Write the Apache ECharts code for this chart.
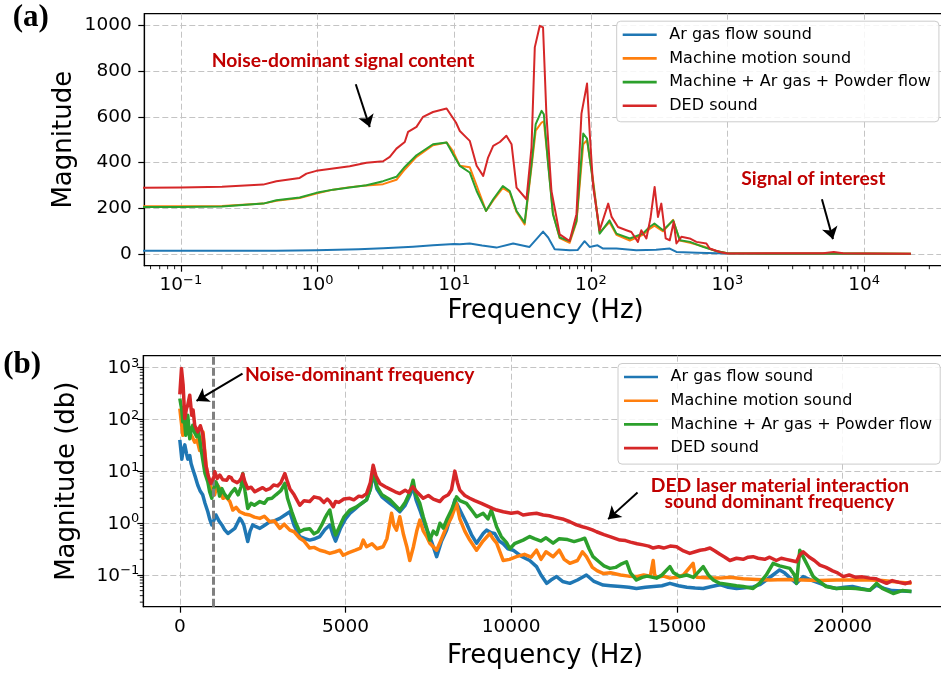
<!DOCTYPE html>
<html><head><meta charset="utf-8">
<script src="https://cdn.jsdelivr.net/npm/echarts@6/dist/echarts.min.js"></script>
<style>html,body{margin:0;padding:0;background:#fff}#c{width:941px;height:673px}</style>
</head><body><div id="c"></div>
<script>
// ---------- names / colours ----------
const seriesNames = ['Ar gas flow sound','Machine motion sound','Machine + Ar gas + Powder flow','DED sound'];
const colors = ['#1f77b4','#ff7f0e','#2ca02c','#d62728'];

// ---------- panel (a): log frequency vs magnitude ----------
const aArFreq = [0.05,0.5,0.98,2,3.02,5,7,10,11,13,16,20.4,27,35.6,40,44.7,48.7,54.4,70,80,90,98,112,123,154,215,300,378,423,600,1000,2000,22000];
const aArMag  = [15,15,17,22,26,33,39,45,44,47,38,29,47,32,66,99,73,22,17,18,57,32,39,25,25,17,20,25,10,6,3,1,1];

const aMachFreq = [0.05,0.1,0.2,0.4,0.5,0.74,0.98,1.3,1.72,2.28,3.02,3.78,4.35,5.3,7.0,8.8,9.8,11,13,14.6,17.1,19.3,22.7,25.5,28.6,32.8,36.8,39.5,43.6,45.3,48.7,52.8,59.2,70,78.5,88,93.8,104,116,137,154,193,240,269,292,338,400,448,532,660,827,1000,2000,10000,22000];
const aMachMag  = [209,209,211,221,233,245,265,282,293,300,306,325,370,425,476,488,450,386,380,300,189,235,290,270,185,130,380,540,575,580,400,180,70,50,140,480,498,320,95,140,85,60,85,110,125,100,150,60,50,35,14,4,3,3,2];

const aMixFreq = aMachFreq;
const aMixMag  = [206,206,208,221,236,248,268,282,291,301,319,338,381,432,480,488,437,386,357,276,189,240,298,276,189,138,393,568,626,611,393,175,73,58,145,527,505,309,90,148,90,69,90,119,134,105,148,61,54,32,14,4,3,3,2];

const aDedFreq = [0.05,0.1,0.2,0.4,0.5,0.74,0.83,0.98,1.3,1.72,2.28,3.02,3.38,3.78,4.35,4.6,5.3,5.92,7.0,8.8,9.0,10.3,11,13,14.6,16.3,17.7,19.3,21.6,24.1,26.3,28.6,33.8,36.8,38.9,42.3,44.7,47.3,51.5,59.2,70,78.5,85.4,93.8,98.2,104,116,134,142,158,182,198,221,234,255,273,293,310,328,353,378,404,423,460,529,592,701,741,877,1000,2000,5000,6000,7000,10000,22000];
const aDedMag  = [290,291,295,304,319,333,352,364,374,384,399,406,425,461,490,534,556,600,621,636,633,575,538,495,386,342,422,473,490,517,480,291,240,466,903,997,990,611,276,87,58,175,614,745,527,294,105,221,163,119,105,97,54,105,69,156,294,163,221,69,61,141,47,76,69,54,47,25,10,3,4,4,10,4,3,2];

// ---------- panel (b): linear frequency vs log magnitude ----------
const bArFreq = [0,30,60,100,150,200,240,300,340,390,460,540,610,690,760,845,900,965,1020,1090,1180,1270,1350,1450,1550,1660,1740,1810,1870,1930,2000,2050,2120,2200,2300,2415,2550,2716,2850,3018,3150,3320,3450,3620,3780,3920,4080,4225,4380,4527,4620,4700,4850,5000,5130,5300,5450,5635,5750,5835,5950,6100,6340,6500,6640,6800,6950,7040,7130,7245,7400,7545,7650,7750,7900,8050,8180,8300,8450,8650,8800,8955,9155,9255,9400,9500,9640,9760,9900,10060,10300,10560,10765,10900,11070,11200,11370,11550,11770,12000,12270,12500,12775,13000,13300,13550,13780,14050,14300,14550,14790,15050,15300,15550,15795,16050,16300,16550,16800,17050,17300,17500,17700,17900,18100,18250,18400,18610,18810,19050,19315,19550,19815,20050,20300,20550,20825,21025,21250,21500,21800,22080];
const bArMag  = [40,42,17,25,32,22,17,20,14,11,8,5.4,4.2,3.5,2.4,1.65,1.2,0.92,1.1,1.43,1.1,0.92,0.75,0.63,0.7,0.79,1.0,1.23,1.1,0.92,0.6,0.44,0.7,0.92,0.85,0.79,0.9,1.06,1.1,1.23,1.4,1.65,0.9,0.55,0.5,0.47,0.5,0.55,0.75,0.92,0.6,0.45,0.8,1.2,1.54,1.9,2.3,2.8,4.5,9.0,4.5,3.2,2.4,2.0,1.65,2.2,3.5,5.0,2.8,1.78,0.9,0.55,0.35,0.225,0.45,0.73,1.4,2.8,1.8,0.99,0.6,0.41,0.63,0.73,0.65,0.63,0.45,0.40,0.32,0.30,0.23,0.19,0.145,0.1,0.069,0.08,0.093,0.075,0.069,0.08,0.1,0.075,0.064,0.062,0.06,0.058,0.055,0.058,0.06,0.062,0.069,0.062,0.058,0.056,0.055,0.06,0.065,0.058,0.055,0.057,0.059,0.065,0.08,0.1,0.125,0.11,0.09,0.069,0.093,0.08,0.069,0.06,0.055,0.058,0.06,0.055,0.051,0.064,0.055,0.05,0.049,0.048];

const bMachFreq = [0,30,90,150,210,260,300,380,450,520,600,650,700,750,800,880,965,1050,1130,1207,1300,1400,1510,1600,1700,1810,1950,2110,2250,2415,2550,2716,2850,3018,3150,3320,3450,3620,3750,3920,4050,4225,4400,4527,4700,4830,4930,5100,5300,5450,5535,5635,5800,5950,6135,6250,6390,6460,6540,6640,6750,6850,6940,7050,7150,7245,7350,7450,7545,7750,7900,8050,8200,8350,8450,8600,8750,8955,9150,9355,9450,9560,9660,9760,9950,10160,10400,10600,10765,10900,11050,11265,11450,11600,11770,12000,12150,12270,12450,12600,12775,13000,13300,13550,13780,14000,14200,14285,14330,14400,14600,14790,15000,15200,15490,15550,15600,15900,16295,16600,17000,17400,17800,18300,18810,19300,19815,20300,20825,21200,21500,21800,22080];
const bMachMag  = [160,160,49,70,89,60,57,45,36,40,25,35,57,25,12,6,4.6,3.5,5.5,4.6,3.0,3.2,2.6,1.78,2.0,1.65,1.5,1.43,1.3,1.23,1.35,1.06,1.1,0.79,0.95,0.73,0.68,0.51,0.45,0.33,0.34,0.30,0.28,0.26,0.28,0.30,0.24,0.27,0.3,0.33,0.47,0.35,0.4,0.32,0.35,0.5,1.54,0.9,0.73,1.32,0.6,0.35,0.19,0.35,0.7,1.14,0.7,0.55,0.41,0.30,0.5,0.85,1.3,2.4,1.2,0.7,0.47,0.30,0.45,0.63,0.5,0.41,0.28,0.19,0.2,0.225,0.25,0.22,0.30,0.2,0.28,0.225,0.3,0.2,0.168,0.19,0.28,0.225,0.14,0.12,0.107,0.11,0.1,0.095,0.093,0.1,0.095,0.19,0.1,0.09,0.095,0.087,0.09,0.1,0.168,0.1,0.09,0.088,0.087,0.09,0.085,0.082,0.080,0.082,0.080,0.078,0.080,0.08,0.08,0.078,0.075,0.072,0.069];

const bMixFreq = [0,30,60,90,130,180,240,300,340,390,450,510,560,600,650,690,760,845,900,965,1020,1090,1150,1200,1270,1350,1450,1550,1660,1760,1850,1900,1970,2050,2150,2250,2415,2550,2650,2780,2900,3050,3170,3250,3380,3500,3620,3750,3920,4050,4165,4275,4375,4450,4527,4620,4700,4800,4950,5130,5300,5450,5635,5750,5835,5950,6100,6340,6500,6640,6800,6950,7040,7120,7243,7350,7450,7545,7650,7750,7850,7950,8050,8200,8350,8450,8650,8800,8955,9155,9300,9400,9560,9700,9860,9960,10100,10360,10560,10700,10900,11050,11265,11450,11700,11900,12100,12220,12350,12470,12650,12800,12980,13150,13300,13480,13600,13780,13950,14100,14385,14550,14790,14900,15090,15300,15500,15795,15950,16100,16295,16500,16800,17000,17300,17500,17700,17905,18100,18410,18550,18610,18710,18850,19000,19115,19300,19500,19815,20100,20400,20825,21025,21200,21530,21800,22080];
const bMixMag  = [250,250,150,89,110,49,119,42,60,76,55,46,60,40,25,17,9,6.2,4,3.0,4.5,6.2,5.0,3.3,4.6,3.6,3.0,3.8,4.6,3.5,5.0,9.0,4.0,1.9,2.4,2.2,2.6,2.4,2.9,3.0,3.5,4.2,5.8,3.0,1.65,1.0,0.68,0.75,0.78,0.62,0.68,0.9,1.23,1.5,1.78,0.9,0.59,0.8,1.3,1.78,2.0,2.3,2.8,4.5,10.4,5,3.5,2.8,2.2,1.78,2.5,4.0,6.7,3.5,2.4,1.3,0.8,0.47,0.7,0.6,0.99,0.8,1.14,1.8,3.2,2.7,2.4,1.8,1.32,1.54,1.2,1.78,0.85,0.55,0.42,0.32,0.4,0.47,0.55,0.5,0.45,0.52,0.41,0.5,0.48,0.44,0.48,0.51,0.32,0.225,0.18,0.15,0.134,0.14,0.16,0.18,0.11,0.080,0.09,0.095,0.087,0.1,0.145,0.11,0.093,0.1,0.09,0.145,0.1,0.08,0.069,0.066,0.062,0.06,0.055,0.07,0.1,0.168,0.15,0.134,0.1,0.069,0.30,0.2,0.13,0.093,0.075,0.06,0.055,0.056,0.055,0.051,0.069,0.055,0.044,0.05,0.048];

const bDedFreq = [0,50,100,150,200,240,300,360,400,450,540,620,700,785,860,935,1030,1056,1130,1207,1300,1418,1480,1550,1600,1660,1730,1800,1850,1900,1960,2052,2150,2264,2380,2500,2600,2716,2830,2950,3050,3170,3250,3320,3450,3620,3750,3920,4050,4225,4350,4450,4527,4630,4700,4800,4950,5130,5250,5400,5500,5635,5750,5835,5920,6036,6200,6340,6500,6640,6800,6900,7030,7150,7345,7500,7650,7847,7950,8100,8200,8300,8380,8450,8600,8750,8900,9100,9300,9450,9560,9760,10000,10200,10360,10550,10765,10965,11150,11300,11550,11770,11970,12150,12300,12450,12575,12800,12980,13280,13450,13600,13800,13980,14150,14285,14450,14600,14800,14990,15200,15390,15550,15700,15850,16000,16150,16300,16450,16600,16800,17000,17150,17300,17450,17650,17800,18000,18150,18300,18450,18610,18700,18810,19000,19150,19315,19500,19700,19850,20020,20200,20400,20600,20825,21000,21100,21330,21500,21700,21900,22080];
const bDedMag  = [300,944,450,103,160,186,290,119,150,76,57,75,50,13,8,5.8,7.8,9.7,7.2,8.4,6.8,6.7,7.8,7.5,6.6,7.2,6.0,6.5,7.2,8.8,6.3,4.6,4.9,4.0,4.4,4.8,4.3,4.6,5.4,5.2,6.0,9.0,6.2,4.6,3.5,2.2,2.7,2.6,3.2,3.0,2.5,2.9,2.6,2.06,2.6,2.5,2.9,3.0,2.8,3.3,3.2,3.7,6,13,8,5.8,5.0,4.5,4.0,3.7,4.3,3.9,5.0,4.0,3.0,3.4,2.9,2.6,3.1,3.5,4.4,10,6,4.3,3.4,3.0,2.7,2.4,2.1,1.9,1.78,1.65,1.55,1.62,1.43,1.5,1.54,1.43,1.38,1.3,1.2,1.06,0.92,0.85,0.8,0.74,0.68,0.6,0.55,0.47,0.46,0.43,0.40,0.38,0.36,0.33,0.35,0.33,0.36,0.35,0.29,0.26,0.28,0.3,0.31,0.33,0.29,0.25,0.22,0.19,0.21,0.2,0.22,0.225,0.21,0.2,0.22,0.19,0.21,0.2,0.19,0.18,0.24,0.28,0.22,0.19,0.155,0.14,0.12,0.11,0.093,0.1,0.09,0.092,0.087,0.085,0.08,0.069,0.078,0.072,0.068,0.074];

// ---------- axis ranges / ticks ----------
const aXRange = [0.054, 40400];
const aYRange = [-50, 1050];
const bXRange = [-1102, 23152];
const bYRange = [0.0245, 1671];
const aMinorX = [0.06,0.07,0.08,0.09,0.2,0.3,0.4,0.5,0.6,0.7,0.8,0.9,2,3,4,5,6,7,8,9,20,30,40,50,60,70,80,90,200,300,400,500,600,700,800,900,2000,3000,4000,5000,6000,7000,8000,9000,20000,30000,40000];
const bMinorY = [0.03,0.04,0.05,0.06,0.07,0.08,0.09,0.2,0.3,0.4,0.5,0.6,0.7,0.8,0.9,2,3,4,5,6,7,8,9,20,30,40,50,60,70,80,90,200,300,400,500,600,700,800,900];

// ---------- annotations (data coordinates) ----------
const aArrows = [[[1.905,742],[2.41,555]], [[4910,240],[5913,66]]];
const bArrows = [[[1892,757],[504,225]], [[13813,3.89],[12926,1.19]]];
const bCutoff = 1000;

const zip = (xs, ys) => xs.map((x, i) => [x, ys[i]]);
const FONT = 'DejaVu Sans';
const RED = '#c00000';

const supLabel = (extra) => Object.assign({
  formatter: v => { const e = Math.round(Math.log10(v)); return '{b|10}{s|' + (e < 0 ? '\u2212' + (-e) : e) + '}'; },
  rich: {
    b: {fontSize: 18.5, fontFamily: FONT, color: '#000', verticalAlign: 'bottom'},
    s: {fontSize: 13, fontFamily: FONT, color: '#000', verticalAlign: 'bottom', padding: [0, 0, 8, 0]}
  },
  showMinLabel: false, showMaxLabel: false, interval: 0
}, extra);

const splitLine = {show: true, showMinLine: false, showMaxLine: false, lineStyle: {color: '#c4c4c4', type: [6, 3], width: 1}};
const axisLine = {show: true, onZero: false, lineStyle: {color: '#000', width: 1.2}};
const axisTick = {show: true, length: 6, inside: false, lineStyle: {color: '#000', width: 1.2}};
const nameStyle = {fontSize: 26, fontFamily: FONT, color: '#000'};

function lineSeries(name, i, xi, data, width, extra) {
  return Object.assign({
    type: 'line', name, xAxisIndex: xi, yAxisIndex: xi, data,
    showSymbol: false, symbol: 'none', smooth: false, silent: true,
    lineStyle: {color: colors[i], width, join: 'round'}, itemStyle: {color: colors[i]},
    z: 2 + i
  }, extra || {});
}

function minorTicks(xi, vals, axis, edge, len) {
  return {
    type: 'custom', xAxisIndex: xi, yAxisIndex: xi, silent: true, clip: false, z: 20,
    data: vals.map(v => axis === 'x' ? [v, edge] : [edge, v]),
    renderItem(params, api) {
      const p = api.coord([api.value(0), api.value(1)]);
      return axis === 'x'
        ? {type: 'line', shape: {x1: p[0], y1: p[1], x2: p[0], y2: p[1] + len}, style: {stroke: '#000', lineWidth: 0.9}}
        : {type: 'line', shape: {x1: p[0] - len, y1: p[1], x2: p[0], y2: p[1]}, style: {stroke: '#000', lineWidth: 0.9}};
    }
  };
}

const arrowMark = (arrows) => ({
  silent: true, symbol: ['none', 'arrow'], symbolSize: 12, animation: false,
  label: {show: false}, emphasis: {disabled: true},
  lineStyle: {color: '#000', type: 'solid', width: 2},
  data: arrows.map(a => [{coord: a[0]}, {coord: a[1]}])
});

const legendCfg = (left, top) => ({
  data: seriesNames, orient: 'vertical', left, top, icon: 'rect',
  itemWidth: 34, itemHeight: 2.6, itemGap: 3.7, selectedMode: false,
  padding: [3.5, 8, 6, 6], backgroundColor: 'rgba(255,255,255,0.85)',
  borderColor: '#cccccc', borderWidth: 1, borderRadius: 4,
  textStyle: {fontSize: 16, fontFamily: FONT, color: '#000', lineHeight: 20, padding: [0, 0, 0, 7.6]}
});

const option = {
  animation: false,
  textStyle: {fontFamily: FONT},
  grid: [
    {left: 144.3, top: 13.7, width: 947 - 144.3, height: 252, show: true, borderColor: '#000', borderWidth: 1.2, backgroundColor: '#fff', containLabel: false, outerBoundsMode: 'none'},
    {left: 143.3, top: 355.7, width: 947 - 143.3, height: 251, show: true, borderColor: '#000', borderWidth: 1.2, backgroundColor: '#fff', containLabel: false, outerBoundsMode: 'none'}
  ],
  xAxis: [
    {type: 'log', logBase: 10, gridIndex: 0, min: aXRange[0], max: aXRange[1],
     axisLine, axisTick, splitLine, axisLabel: supLabel({margin: 8}),
     name: 'Frequency (Hz)', nameLocation: 'middle', nameGap: 33, nameTextStyle: nameStyle, nameMoveOverlap: false},
    {type: 'value', gridIndex: 1, min: bXRange[0], max: bXRange[1], splitNumber: 5,
     axisLine, axisTick, splitLine,
     axisLabel: {formatter: v => String(v), fontSize: 18.5, fontFamily: FONT, color: '#000', margin: 11, showMinLabel: false, showMaxLabel: false},
     name: 'Frequency (Hz)', nameLocation: 'middle', nameGap: 37, nameTextStyle: nameStyle, nameMoveOverlap: false}
  ],
  yAxis: [
    {type: 'value', gridIndex: 0, min: aYRange[0], max: aYRange[1], splitNumber: 5,
     axisLine, axisTick, splitLine,
     axisLabel: {formatter: v => String(v), fontSize: 18.5, fontFamily: FONT, color: '#000', margin: 12.6, showMinLabel: false, showMaxLabel: false},
     name: 'Magnitude', nameLocation: 'middle', nameGap: 67, nameTextStyle: nameStyle, nameMoveOverlap: false},
    {type: 'log', logBase: 10, gridIndex: 1, min: bYRange[0], max: bYRange[1],
     axisLine, axisTick, splitLine, axisLabel: supLabel({margin: 4}),
     name: 'Magnitude (db)', nameLocation: 'middle', nameGap: 63.5, nameTextStyle: nameStyle, nameMoveOverlap: false}
  ],
  legend: [legendCfg(616.7, 21.2), legendCfg(618, 363.5)],
  series: [
    lineSeries(seriesNames[0], 0, 0, zip(aArFreq, aArMag), 2),
    lineSeries(seriesNames[1], 1, 0, zip(aMachFreq, aMachMag), 2),
    lineSeries(seriesNames[2], 2, 0, zip(aMixFreq, aMixMag), 2),
    lineSeries(seriesNames[3], 3, 0, zip(aDedFreq, aDedMag), 2, {markLine: arrowMark(aArrows)}),
    lineSeries(seriesNames[0], 0, 1, zip(bArFreq, bArMag), 3.5, {markLine: {
      silent: true, symbol: ['none', 'none'], label: {show: false}, emphasis: {disabled: true},
      lineStyle: {color: '#808080', type: [8, 3], width: 3}, data: [{xAxis: bCutoff}]}}),
    lineSeries(seriesNames[1], 1, 1, zip(bMachFreq, bMachMag), 3.5),
    lineSeries(seriesNames[2], 2, 1, zip(bMixFreq, bMixMag), 3.5),
    lineSeries(seriesNames[3], 3, 1, zip(bDedFreq, bDedMag), 3.5, {markLine: arrowMark(bArrows)}),
    minorTicks(0, aMinorX, 'x', aYRange[0], 3.5),
    minorTicks(1, bMinorY, 'y', bXRange[0], 3.5)
  ],
  graphic: [
    {type: 'text', x: 12.7, y: 18, z: 100, style: {text: '(a)', fontFamily: 'Liberation Serif', fontWeight: 'bold', fontSize: 31, fill: '#000', align: 'left', verticalAlign: 'middle'}},
    {type: 'text', x: 3.3, y: 365, z: 100, style: {text: '(b)', fontFamily: 'Liberation Serif', fontWeight: 'bold', fontSize: 31, fill: '#000', align: 'left', verticalAlign: 'middle'}},
    {type: 'text', x: 343, y: 61, z: 100, style: {text: 'Noise-dominant signal content', fontFamily: 'Lato', fontWeight: 'bold', fontSize: 19.3, fill: RED, align: 'center', verticalAlign: 'middle'}},
    {type: 'text', x: 813.3, y: 179, z: 100, style: {text: 'Signal of interest', fontFamily: 'Lato', fontWeight: 'bold', fontSize: 19.3, fill: RED, align: 'center', verticalAlign: 'middle'}},
    {type: 'text', x: 245, y: 374.3, z: 100, style: {text: 'Noise-dominant frequency', fontFamily: 'Lato', fontWeight: 'bold', fontSize: 19.3, fill: RED, align: 'left', verticalAlign: 'middle'}},
    {type: 'text', x: 780, y: 485.7, z: 100, style: {text: 'DED laser material interaction', fontFamily: 'Lato', fontWeight: 'bold', fontSize: 19.3, fill: RED, align: 'center', verticalAlign: 'middle'}},
    {type: 'text', x: 779.5, y: 501.3, z: 100, style: {text: 'sound dominant frequency', fontFamily: 'Lato', fontWeight: 'bold', fontSize: 19.3, fill: RED, align: 'center', verticalAlign: 'middle'}}
  ]
};

const chart = echarts.init(document.getElementById('c'), null, {renderer: 'canvas'});
chart.setOption(option);
</script>
</body></html>
